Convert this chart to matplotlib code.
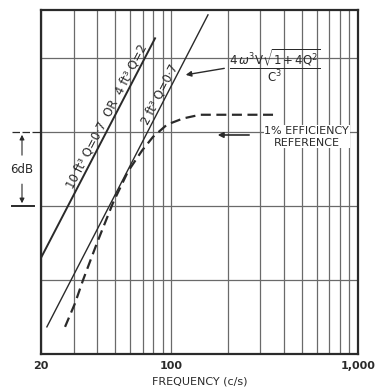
import numpy as np
import matplotlib
matplotlib.use("Agg")
import matplotlib.pyplot as plt
import matplotlib.transforms as mtransforms

# Data (frequency in c/s, level in dB)
line1_freq = [20, 81.7]
line1_db = [7.8, 25.6]
line2_freq = [21.5, 157]
line2_db = [2.2, 27.5]
eff_freq = [26.9, 30.4, 33.6, 39.9, 48.6, 58.5, 69.6, 79.6, 94.7, 115.4, 142.3, 200, 368]
eff_db = [2.2, 4.1, 6.0, 9.0, 12.25, 14.8, 16.5, 17.6, 18.6, 19.1, 19.4, 19.4, 19.4]

major_ticks = [20, 100, 1000]
major_labels = ["20", "100", "1,000"]
minor_ticks = [30, 40, 50, 60, 70, 80, 90, 200, 300, 400, 500, 600, 700, 800, 900]
db_grid = [6, 12, 18, 24]

ink = "#2a2a2a"
grid_c = "#6a6a6a"

fig = plt.figure(figsize=(3.77, 3.87), dpi=100)
ax = fig.add_axes([0.1088, 0.0853, 0.8408, 0.889])

ax.set_xscale("log")
ax.set_xlim(20, 1000)
ax.set_ylim(0, 27.9)

ax.set_xticks(major_ticks)
ax.set_xticklabels(major_labels, fontsize=8, fontweight="bold", color=ink)
ax.set_xticks(minor_ticks, minor=True)
ax.xaxis.set_minor_formatter(matplotlib.ticker.NullFormatter())
ax.set_yticks(db_grid)
ax.set_yticklabels([])
ax.tick_params(which="both", length=0, pad=5)
ax.grid(True, which="both", color=grid_c, lw=0.9)
for s in ax.spines.values():
    s.set_linewidth(1.6)
    s.set_color(ink)

ax.set_xlabel("FREQUENCY (c/s)", fontsize=8, color=ink, labelpad=4)

# curves
ax.plot(line1_freq, line1_db, color=ink, lw=1.4)
ax.plot(line2_freq, line2_db, color=ink, lw=1.0)
ax.plot(eff_freq, eff_db, color=ink, lw=1.6, ls=(0, (4.5, 2.5)))

# line labels, sitting on the upper-left side of each line
ax.text(48.6, 19.0, "10 ft³ Q=0·7  OR  4 ft³ Q=2", rotation=62.5,
        rotation_mode="anchor", ha="center", va="bottom", fontsize=8.5,
        color=ink)
ax.text(93, 20.85, "2 ft³ Q=0·7", rotation=62.7,
        rotation_mode="anchor", ha="center", va="bottom", fontsize=8.5,
        color=ink)

# formula with arrow
ax.text(359, 23.35,
        r"$\dfrac{4\,\omega^3\mathrm{V}\sqrt{\mathrm{1+4Q^2}}}{\mathrm{C}^3}$",
        ha="center", va="center", fontsize=8.5, color=ink)
ax.annotate("", xy=(115.3, 22.6), xytext=(198.6, 23.2),
            arrowprops=dict(arrowstyle="-|>", color=ink, lw=1.0,
                            mutation_scale=8))

# efficiency reference text
ax.text(530, 17.6, "1% EFFICIENCY\nREFERENCE", ha="center", va="center",
        fontsize=8, color=ink, linespacing=1.2,
        bbox=dict(facecolor="white", edgecolor="none", pad=0.5))
ax.annotate("", xy=(171, 17.76), xytext=(270, 17.76),
            arrowprops=dict(arrowstyle="-|>", color=ink, lw=1.2,
                            mutation_scale=8))

# 6 dB bracket on the left
tr = mtransforms.blended_transform_factory(ax.transAxes, ax.transData)
ax.plot([-0.092, 0], [18, 18], transform=tr, color=ink, lw=0.9,
        ls=(0, (6, 2)), clip_on=False)
ax.plot([-0.092, -0.022], [12, 12], transform=tr, color=ink, lw=1.4,
        clip_on=False)
ax.annotate("", xy=(-0.06, 18), xytext=(-0.06, 15.9), xycoords=tr,
            textcoords=tr, arrowprops=dict(arrowstyle="-|>", color=ink,
                                           lw=0.8, mutation_scale=7))
ax.annotate("", xy=(-0.06, 12), xytext=(-0.06, 14.0), xycoords=tr,
            textcoords=tr, arrowprops=dict(arrowstyle="-|>", color=ink,
                                           lw=0.8, mutation_scale=7))
ax.text(-0.06, 14.95, "6dB", transform=tr, ha="center", va="center",
        fontsize=8.5, color=ink)

fig.savefig("out.png", dpi=100)
